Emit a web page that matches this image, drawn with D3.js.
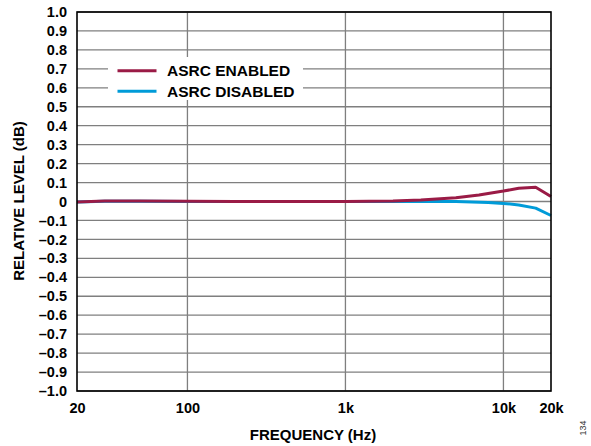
<!DOCTYPE html>
<html><head><meta charset="utf-8">
<script src="https://cdn.jsdelivr.net/npm/d3@7"></script>
<style>body{margin:0;background:#fff}svg{display:block}text{font-family:Arial,"Liberation Sans",sans-serif}</style>
</head><body>
<svg id="c" width="591" height="446"></svg>
<script>
const enabledFreq = [20, 30, 50, 100, 200, 500, 1000, 2000, 3000, 5000, 7000, 10000, 12500, 16000, 20000];
const enabledDb   = [-0.002, 0.002, 0.002, 0.001, 0.0, 0.0, 0.0, 0.003, 0.008, 0.02, 0.034, 0.055, 0.07, 0.075, 0.026];
const disabledFreq = [20, 30, 50, 100, 200, 500, 1000, 2000, 5000, 8000, 10000, 12500, 16000, 20000];
const disabledDb   = [-0.002, 0.001, 0.001, 0.0, 0.0, 0.0, 0.0, 0.0, 0.0, -0.005, -0.01, -0.018, -0.035, -0.074];
const xTickValues = [20, 100, 1000, 10000, 20000];
const xTickLabels = ["20", "100", "1k", "10k", "20k"];
const yTickValues = d3.range(-10, 11).map(v => v / 10);
const seriesNames = ["ASRC ENABLED", "ASRC DISABLED"];
const seriesColors = ["#9a1b46", "#009bd8"];

const svg = d3.select("#c");
const L = 77, R = 551, T = 12, B = 391;
const x = d3.scaleLog().domain([20, 20000]).range([L, R]);
const y = d3.scaleLinear().domain([-1, 1]).range([B, T]);

// grid
const g = svg.append("g");
g.selectAll("line.h").data(yTickValues).enter().append("line")
  .attr("x1", L).attr("x2", R).attr("y1", d => y(d)).attr("y2", d => y(d))
  .attr("stroke", "#7f7f7f").attr("stroke-width", 1.3);
g.selectAll("line.v").data([100, 1000, 10000]).enter().append("line")
  .attr("y1", T).attr("y2", B).attr("x1", d => x(d)).attr("x2", d => x(d))
  .attr("stroke", "#7f7f7f").attr("stroke-width", 1.3);

// legend background
svg.append("rect").attr("x", 108).attr("y", 57).attr("width", 195).attr("height", 43).attr("fill", "#fff");

// lines
const line = d3.line().x(d => x(d[0])).y(d => y(d[1]));
svg.append("path").datum(disabledFreq.map((f, i) => [f, disabledDb[i]]))
  .attr("d", line).attr("fill", "none").attr("stroke", seriesColors[1]).attr("stroke-width", 3).attr("stroke-linejoin", "round");
svg.append("path").datum(enabledFreq.map((f, i) => [f, enabledDb[i]]))
  .attr("d", line).attr("fill", "none").attr("stroke", seriesColors[0]).attr("stroke-width", 3).attr("stroke-linejoin", "round");

// frame
svg.append("rect").attr("x", L).attr("y", T).attr("width", R - L).attr("height", B - T)
  .attr("fill", "none").attr("stroke", "#000").attr("stroke-width", 1.6);

// axes labels via d3 axes (no lines)
const fmtY = d => d === 0 ? "0" : (d < 0 ? "\u2013" : "") + Math.abs(d).toFixed(1);
const yAxis = svg.append("g").attr("transform", `translate(${L},0)`)
  .call(d3.axisLeft(y).tickValues(yTickValues).tickFormat(fmtY).tickSize(0).tickPadding(10));
yAxis.select(".domain").remove();
yAxis.selectAll("text").attr("font-size", 14.5).attr("font-weight", "bold").attr("fill", "#000")
  .attr("font-family", "Arial, 'Liberation Sans', sans-serif");

const xAxis = svg.append("g").attr("transform", `translate(0,${B})`)
  .call(d3.axisBottom(x).tickValues(xTickValues).tickFormat((d, i) => xTickLabels[i]).tickSize(0).tickPadding(12));
xAxis.select(".domain").remove();
xAxis.selectAll("text").attr("font-size", 14.5).attr("font-weight", "bold").attr("fill", "#000")
  .attr("font-family", "Arial, 'Liberation Sans', sans-serif");

// titles
svg.append("text").attr("x", 313).attr("y", 440).attr("text-anchor", "middle")
  .attr("font-size", 15).attr("font-weight", "bold").text("FREQUENCY (Hz)");
svg.append("text").attr("transform", "translate(24,201) rotate(-90)").attr("text-anchor", "middle")
  .attr("font-size", 15).attr("font-weight", "bold").text("RELATIVE LEVEL (dB)");
svg.append("text").attr("transform", "translate(586,428) rotate(-90)").attr("text-anchor", "middle")
  .attr("font-size", 9).attr("fill", "#333").text("134");

// legend
const leg = svg.append("g");
seriesNames.forEach((n, i) => {
  const yy = 70.7 + i * 20.6;
  leg.append("line").attr("x1", 117.5).attr("x2", 156.5).attr("y1", yy).attr("y2", yy)
    .attr("stroke", seriesColors[i]).attr("stroke-width", 3);
  leg.append("text").attr("x", 167).attr("y", yy + 5.5).attr("font-size", 15.5).attr("font-weight", "bold").text(n);
});
</script>
</body></html>
